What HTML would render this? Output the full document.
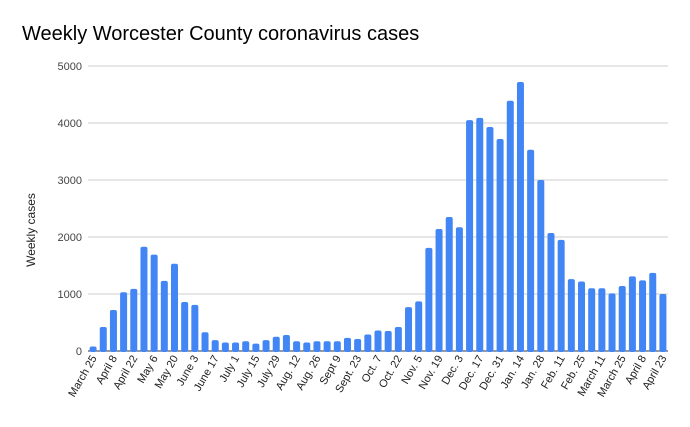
<!DOCTYPE html>
<html><head><style>
body{margin:0;background:#fff;}
svg{display:block;font-family:"Liberation Sans",sans-serif;}
</style></head><body>
<svg id="s" width="690" height="427" viewBox="0 0 690 427">
<rect width="690" height="427" fill="#fff"/>
<text x="22" y="40" font-size="20" fill="#000">Weekly Worcester County coronavirus cases</text>
<text transform="translate(35,230) rotate(-90)" font-size="12" text-anchor="middle" fill="#222">Weekly cases</text>
<g id="g"></g>
</svg>
<script>
var v=[80,420,720,1030,1090,1830,1690,1230,1530,860,810,330,190,150,150,170,130,190,250,280,170,150,170,170,170,230,210,290,360,350,420,770,870,1810,2140,2350,2170,4050,4090,3930,3720,4390,4720,3530,3000,2070,1950,1260,1220,1100,1100,1010,1140,1310,1240,1370,1000];
var L=["March 25","April 8","April 22","May 6","May 20","June 3","June 17","July 1","July 15","July 29","Aug. 12","Aug. 26","Sept 9","Sept. 23","Oct. 7","Oct. 22","Nov. 5","Nov. 19","Dec. 3","Dec. 17","Dec. 31","Jan. 14","Jan. 28","Feb. 11","Feb. 25","March 11","March 25","April 8","April 23"];
var h='',x0=88,x1=668,y0=351,k=57/1000,w=(x1-x0)/57;
for(var t=0;t<=5;t++){var y=y0-t*1000*k;
h+='<line x1="'+x0+'" x2="'+x1+'" y1="'+y+'" y2="'+y+'" stroke="'+(t?'#ccc':'#333')+'" stroke-width="1"/>';
h+='<text x="82" y="'+(y+4)+'" font-size="11" text-anchor="end" fill="#444">'+t*1000+'</text>';}
v.forEach(function(d,i){var c=x0+(i+0.5)*w,hh=d*k;
h+='<rect x="'+(c-3.5)+'" y="'+(y0-hh)+'" width="7" height="'+(hh+1)+'" rx="2" fill="#4285f4"/>';
if(i%2==0){h+='<text transform="translate('+(c+4)+',358) rotate(-60)" font-size="11" text-anchor="end" fill="#222">'+L[i/2]+'</text>';}});
document.getElementById('g').innerHTML=h;
</script>
</body></html>
